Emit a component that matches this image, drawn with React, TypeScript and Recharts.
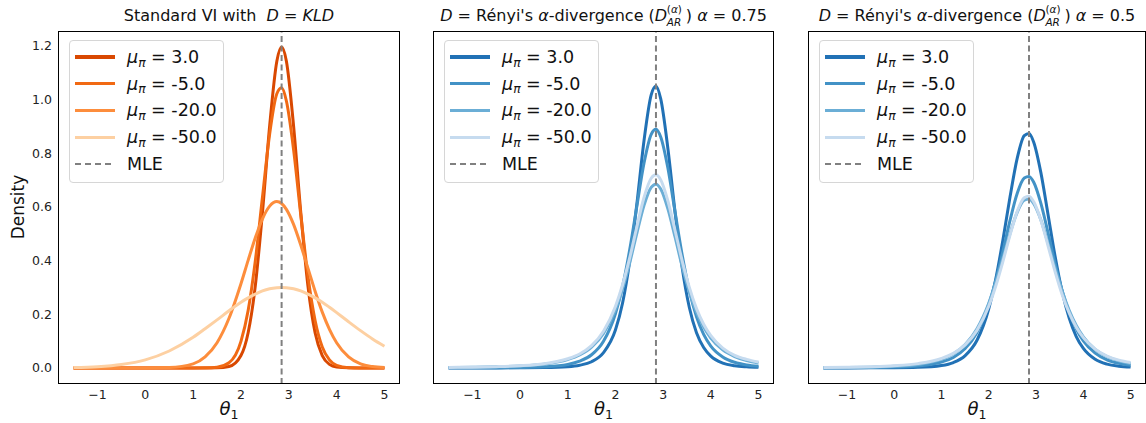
import React from 'react'
import { LineChart, Line, XAxis, YAxis, ReferenceLine } from 'recharts'

const FONT = '"DejaVu Sans", sans-serif'

// theta_1 sample points
const thetaGrid = [-1.5, -1, -0.5, 0, 0.5, 1, 1.25, 1.5, 1.75, 2, 2.15, 2.3, 2.45, 2.6, 2.75, 2.85, 2.95, 3.1, 3.25, 3.4, 3.55, 3.7, 3.85, 4, 4.25, 4.5, 4.75, 5]

// Standard VI, D = KLD
const kldMu3 = [0, 0, 0, 0, 0, 0, 0, 0.0003, 0.005, 0.046, 0.131, 0.306, 0.581, 0.902, 1.143, 1.196, 1.143, 0.902, 0.581, 0.306, 0.131, 0.046, 0.013, 0.003, 0.0002, 0, 0, 0]
const kldMuM5 = [0, 0, 0, 0, 0, 0, 0.0002, 0.0024, 0.019, 0.099, 0.214, 0.399, 0.637, 0.872, 1.022, 1.044, 0.995, 0.814, 0.571, 0.343, 0.177, 0.078, 0.03, 0.0096, 0.001, 0.0001, 0, 0]
const kldMuM20 = [0, 0, 0, 0.0001, 0.0014, 0.015, 0.041, 0.094, 0.185, 0.314, 0.401, 0.485, 0.556, 0.603, 0.62, 0.613, 0.591, 0.535, 0.458, 0.372, 0.286, 0.208, 0.144, 0.094, 0.041, 0.015, 0.005, 0.0014]
const kldMuM50 = [0.0014, 0.0045, 0.0126, 0.03, 0.063, 0.114, 0.146, 0.179, 0.213, 0.245, 0.261, 0.275, 0.287, 0.295, 0.299, 0.3, 0.299, 0.295, 0.287, 0.275, 0.261, 0.245, 0.226, 0.206, 0.172, 0.139, 0.108, 0.081]

// Renyi alpha = 0.75
const r75Mu3 = [0, 0.0001, 0.0001, 0.0004, 0.0012, 0.0046, 0.01, 0.023, 0.057, 0.141, 0.242, 0.398, 0.612, 0.848, 1.018, 1.05, 1.003, 0.818, 0.581, 0.373, 0.225, 0.131, 0.076, 0.044, 0.018, 0.008, 0.004, 0.002]
const r75MuM5 = [0.0002, 0.0003, 0.0007, 0.0016, 0.0042, 0.013, 0.025, 0.049, 0.0995, 0.202, 0.304, 0.441, 0.604, 0.764, 0.871, 0.89, 0.861, 0.745, 0.582, 0.421, 0.288, 0.191, 0.125, 0.0815, 0.041, 0.021, 0.011, 0.006]
const r75MuM20 = [0.0014, 0.0023, 0.0039, 0.007, 0.0138, 0.031, 0.048, 0.077, 0.1285, 0.217, 0.295, 0.392, 0.5025, 0.606, 0.673, 0.685, 0.667, 0.593, 0.488, 0.378, 0.283, 0.208, 0.152, 0.111, 0.067, 0.042, 0.027, 0.018]
const r75MuM50 = [0.0018, 0.0028, 0.0046, 0.008, 0.0155, 0.034, 0.052, 0.083, 0.137, 0.229, 0.31, 0.411, 0.527, 0.636, 0.707, 0.72, 0.701, 0.623, 0.513, 0.399, 0.3, 0.221, 0.163, 0.12, 0.074, 0.047, 0.032, 0.022]

// Renyi alpha = 0.5
const r50Mu3 = [0, 0.0001, 0.0002, 0.0005, 0.002, 0.009, 0.02, 0.046, 0.103, 0.2215, 0.3345, 0.479, 0.639, 0.781, 0.866, 0.874, 0.8415, 0.729, 0.575, 0.418, 0.285, 0.186, 0.117, 0.0725, 0.032, 0.014, 0.0064, 0.003]
const r50MuM5 = [0.0003, 0.0006, 0.0013, 0.003, 0.0075, 0.022, 0.039, 0.072, 0.132, 0.237, 0.328, 0.4365, 0.551, 0.6505, 0.708, 0.714, 0.692, 0.614, 0.506, 0.391, 0.289, 0.207, 0.145, 0.101, 0.055, 0.03, 0.017, 0.01]
const r50MuM20 = [0.0009, 0.0015, 0.0029, 0.0058, 0.0129, 0.032, 0.052, 0.087, 0.146, 0.242, 0.32, 0.41, 0.502, 0.58, 0.625, 0.6295, 0.612, 0.552, 0.466, 0.373, 0.287, 0.215, 0.1585, 0.116, 0.069, 0.042, 0.026, 0.016]
const r50MuM50 = [0.0017, 0.0027, 0.0045, 0.0081, 0.016, 0.035, 0.054, 0.086, 0.14, 0.2305, 0.307, 0.398, 0.496, 0.583, 0.634, 0.64, 0.619, 0.551, 0.457, 0.36, 0.274, 0.205, 0.152, 0.113, 0.07, 0.044, 0.029, 0.02]

const muLabels = ['3.0', '-5.0', '-20.0', '-50.0']
const xTicks = [-1, 0, 1, 2, 3, 4, 5]
const yTicks = [0, 0.2, 0.4, 0.6, 0.8, 1.0, 1.2]
const mle = 2.85

const orange = ['#d94801', '#f16913', '#fd8d3c', '#fdd0a2']
const blue = ['#2171b5', '#4292c6', '#6baed6', '#c6dbef']

const PLOT_TOP = 31
const PLOT_BOTTOM = 384
const Y_AXIS_W = 58

function makeRows(series: number[][]) {
  return thetaGrid.map((x, i) => {
    const row: any = { x }
    series.forEach((s, k) => { row['s' + k] = s[i] })
    return row
  })
}

const Mu = () => (
  <span><i>μ</i><span style={{ fontSize: '0.7em', position: 'relative', top: '0.3em' }}><i>π</i></span></span>
)

function LegendBox({ colors }: { colors: string[] }) {
  const rowH = 26.8
  return (
    <div style={{
      position: 'absolute', left: 10, top: 8, width: 155, height: 143, boxSizing: 'border-box',
      border: '1px solid #d6d6d6', borderRadius: 4, background: 'rgba(255,255,255,0.85)',
      fontFamily: FONT, fontSize: 17.5, color: '#111', paddingTop: 2.5,
    }}>
      {muLabels.map((m, i) => (
        <div key={m} style={{ height: rowH, display: 'flex', alignItems: 'center', position: 'relative' }}>
          <div style={{ position: 'absolute', left: 5, width: 40, height: 3.5, background: colors[i] }} />
          <div style={{ position: 'absolute', left: 57, whiteSpace: 'nowrap' }}><Mu /> = {m}</div>
        </div>
      ))}
      <div style={{ height: rowH, display: 'flex', alignItems: 'center', position: 'relative' }}>
        <svg style={{ position: 'absolute', left: 5 }} width={40} height={4}>
          <line x1={0} y1={2} x2={40} y2={2} stroke="#808080" strokeWidth={2} strokeDasharray="6 4" />
        </svg>
        <div style={{ position: 'absolute', left: 57 }}>MLE</div>
      </div>
    </div>
  )
}

function Panel({ left, plotW, showY, series, colors, title }: any) {
  const rows = makeRows(series)
  const plotLeft = left + (showY ? Y_AXIS_W : 0)
  const chartW = plotW + (showY ? Y_AXIS_W : 0)
  const tickStyle = { fontSize: 12.5, fill: '#222', fontFamily: FONT }
  return (
    <>
      <div style={{ position: 'absolute', left, top: 0 }}>
        <LineChart width={chartW} height={423} data={rows} margin={{ top: PLOT_TOP, right: 0, bottom: 0, left: 0 }}>
          <XAxis dataKey="x" type="number" domain={[-1.825, 5.325]} ticks={xTicks} allowDataOverflow
            height={423 - PLOT_BOTTOM} tickLine={false} axisLine={false} tickSize={0} tickMargin={6}
            tick={tickStyle} tickFormatter={(v: number) => (v < 0 ? '−' + Math.abs(v) : String(v))} />
          <YAxis type="number" domain={[-0.06, 1.256]} ticks={yTicks} allowDataOverflow hide={!showY}
            width={Y_AXIS_W} tickLine={false} axisLine={false} tickSize={0} tickMargin={6}
            tick={tickStyle} tickFormatter={(v: number) => v.toFixed(1)} />
          {colors.map((c: string, k: number) => (
            <Line key={k} dataKey={'s' + k} type="monotone" stroke={c} strokeWidth={3} dot={false} isAnimationActive={false} />
          ))}
          <ReferenceLine x={mle} stroke="#808080" strokeWidth={2} strokeDasharray="6 3.5" />
        </LineChart>
      </div>
      <div style={{
        position: 'absolute', left: plotLeft, top: PLOT_TOP, width: plotW, height: PLOT_BOTTOM - PLOT_TOP,
        border: '1px solid #000', boxSizing: 'border-box', pointerEvents: 'none',
      }}>
        <LegendBox colors={colors} />
      </div>
      <div style={{
        position: 'absolute', left: plotLeft - 20, top: 7, width: plotW + 40, textAlign: 'center',
        fontFamily: FONT, fontSize: 16, lineHeight: '18px', color: '#111', whiteSpace: 'nowrap',
      }}>{title}</div>
      <div style={{
        position: 'absolute', left: plotLeft, top: 399, width: plotW, textAlign: 'center',
        fontFamily: FONT, fontSize: 18, lineHeight: '20px', color: '#111',
      }}><i>θ</i><span style={{ fontSize: '0.7em', position: 'relative', top: '0.3em' }}>1</span></div>
    </>
  )
}

const DAR = () => (
  <span style={{ position: 'relative', display: 'inline-block', width: 31, textAlign: 'left' }}>
    <i>D</i>
    <span style={{ position: 'absolute', left: 12, top: -7, fontSize: 10.5 }}>(<i>α</i>)</span>
    <span style={{ position: 'absolute', left: 12, top: 6, fontSize: 10.5 }}><i>AR</i></span>
  </span>
)

const renyiTitle = (a: string) => (
  <span><i>D</i> = Rényi's <i>α</i>-divergence (<DAR />) <i>α</i> = {a}</span>
)

export default function App() {
  return (
    <div style={{ position: 'absolute', left: 0, top: 0, width: 1146, height: 423, overflow: 'hidden', background: '#fff' }}>
      <Panel left={0} plotW={342} showY series={[kldMu3, kldMuM5, kldMuM20, kldMuM50]} colors={orange}
        title={<span>Standard VI with &nbsp;<i>D</i> = <i>KLD</i></span>} />
      <Panel left={433} plotW={341} showY={false} series={[r75Mu3, r75MuM5, r75MuM20, r75MuM50]} colors={blue}
        title={renyiTitle('0.75')} />
      <Panel left={808} plotW={338} showY={false} series={[r50Mu3, r50MuM5, r50MuM20, r50MuM50]} colors={blue}
        title={renyiTitle('0.5')} />
      <div style={{
        position: 'absolute', left: 18, top: 207, transform: 'translate(-50%, -50%) rotate(-90deg)',
        fontFamily: FONT, fontSize: 17, color: '#111', whiteSpace: 'nowrap',
      }}>Density</div>
    </div>
  )
}
